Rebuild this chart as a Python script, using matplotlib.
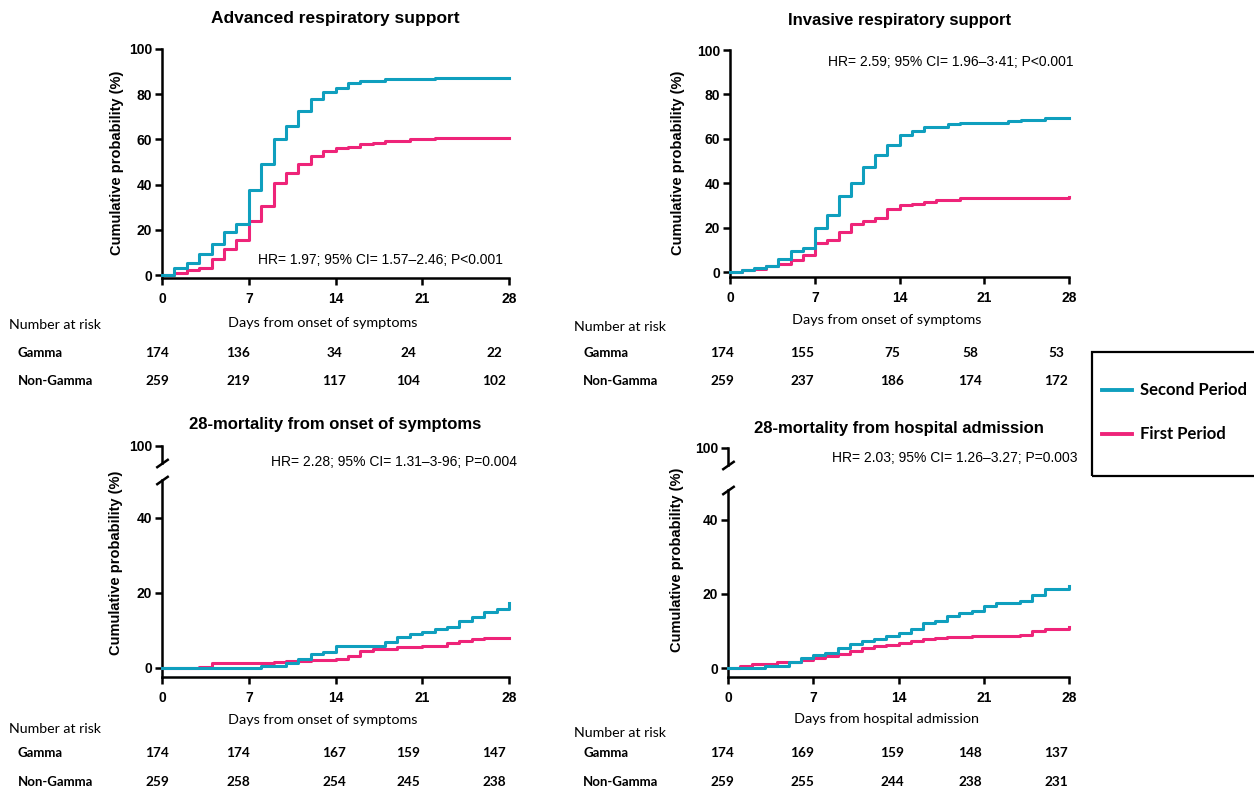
import matplotlib
matplotlib.use('Agg')
import matplotlib.pyplot as plt
from matplotlib.patches import Rectangle
from matplotlib.lines import Line2D

# --- data ---
day_ticks = [0, 7, 14, 21, 28]

# Advanced respiratory support
adv_second_days = [0, 1, 2, 3, 4, 5, 6, 7, 8, 9, 10, 11, 12, 13, 14, 15, 16, 18, 22, 28]
adv_second_vals = [0, 3.2, 5.2, 9.3, 13.7, 19.2, 22.4, 37.6, 49, 60, 66, 72.6, 77.7, 80.8, 82.9, 84.8, 86, 86.6, 87, 87.3]
adv_first_days = [0, 1, 2, 3, 4, 5, 6, 7, 8, 9, 10, 11, 12, 13, 14, 15, 16, 17, 18, 20, 22, 28]
adv_first_vals = [0, 1, 2.2, 3.2, 7, 11.5, 15.5, 24, 30.7, 40.6, 45.3, 49, 52.8, 54.9, 56, 56.8, 57.8, 58.6, 59.4, 60, 60.5, 60.5]

# Invasive respiratory support
inv_second_days = [0, 1, 2, 3, 4, 5, 6, 7, 8, 9, 10, 11, 12, 13, 14, 15, 16, 18, 19, 23, 24, 26, 27.5, 28]
inv_second_vals = [0, 1, 2, 2.7, 6, 9.3, 11, 19.8, 25.9, 34.3, 40.3, 47.4, 52.6, 57.1, 61.7, 63.6, 65.4, 66.5, 67, 68.1, 68.7, 69.2, 69.6, 69.6]
inv_first_days = [0, 1, 2, 3, 4, 5, 6, 7, 8, 9, 10, 11, 12, 13, 14, 15, 16, 17, 19, 28]
inv_first_vals = [0, 0.75, 1.6, 2.7, 3.8, 5.3, 7.5, 13, 14.6, 18, 21.8, 23, 24.5, 28.3, 30, 30.8, 31.6, 32.6, 33.5, 33.8]

# 28-mortality from onset of symptoms
mos_second_days = [0, 8, 10, 11, 12, 13, 14, 18, 19, 20, 21, 22, 23, 24, 25, 26, 27, 28]
mos_second_vals = [0, 0.5, 1.4, 2.4, 3.8, 4.2, 5.8, 6.9, 8.2, 9, 9.7, 10.4, 11, 12.4, 13.5, 15, 15.7, 17.3]
mos_first_days = [0, 3, 4, 9, 10, 12, 14, 15, 16, 17, 19, 21, 23, 24, 25, 26, 28]
mos_first_vals = [0, 0.3, 1.2, 1.6, 1.9, 2.2, 2.4, 3.1, 4.6, 5.1, 5.6, 5.9, 6.6, 7.1, 7.8, 8.1, 8.1]

# 28-mortality from hospital admission
mha_second_days = [0, 3, 5, 6, 7, 8, 9, 10, 11, 12, 13, 14, 15, 16, 17, 18, 19, 20, 21, 22, 24, 25, 26, 28]
mha_second_vals = [0, 0.6, 1.6, 2.7, 3.4, 4, 5.4, 6.5, 7.4, 7.9, 8.7, 9.5, 10.5, 12.2, 12.6, 14, 14.9, 15.3, 16.8, 17.6, 18, 19.6, 21.4, 22]
mha_first_days = [0, 1, 2, 4, 6, 7, 8, 9, 10, 11, 12, 13, 14, 15, 16, 17, 18, 20, 21, 24, 25, 26, 28]
mha_first_vals = [0, 0.6, 1.2, 1.6, 2.3, 2.7, 3.2, 3.9, 4.7, 5.4, 6, 6.3, 6.8, 7.2, 7.8, 8.1, 8.4, 8.6, 8.7, 9, 9.9, 10.6, 11]

titles = ['Advanced respiratory support', 'Invasive respiratory support',
          '28-mortality from onset of symptoms', '28-mortality from hospital admission']
hr_texts = ['HR= 1.97; 95% CI= 1.57\u20132.46; P<0.001',
            'HR= 2.59; 95% CI= 1.96\u20133\u00b741; P<0.001',
            'HR= 2.28; 95% CI= 1.31\u20133-96; P=0.004',
            'HR= 2.03; 95% CI= 1.26\u20133.27; P=0.003']
xlabels = ['Days from onset of symptoms', 'Days from onset of symptoms',
           'Days from onset of symptoms', 'Days from hospital admission']
groups = ['Gamma', 'Non-Gamma']
risk_adv = [[174, 136, 34, 24, 22], [259, 219, 117, 104, 102]]
risk_inv = [[174, 155, 75, 58, 53], [259, 237, 186, 174, 172]]
risk_mos = [[174, 174, 167, 159, 147], [259, 258, 254, 245, 238]]
risk_mha = [[174, 169, 159, 148, 137], [259, 255, 244, 238, 231]]
series_names = ['Second Period', 'First Period']

TEAL = '#0F9FBE'
PINK = '#EE2479'
SANS = 'Liberation Sans'
TAB = 'Lato'

W, H = 1254, 791
fig = plt.figure(figsize=(W / 100, H / 100), dpi=100)
fig.patch.set_facecolor('white')


def box(l, t, r, b):
    return [l / W, 1 - b / H, (r - l) / W, (b - t) / H]


def ftext(x, y, s, **kw):
    kw.setdefault('va', 'center')
    return fig.text(x / W, 1 - y / H, s, **kw)


def style(ax, yticks, ylim, show_x=True):
    ax.set_xlim(0, 28)
    ax.set_ylim(*ylim)
    for s in ['top', 'right']:
        ax.spines[s].set_visible(False)
    for s in ['left', 'bottom']:
        ax.spines[s].set_linewidth(1.8)
    ax.set_yticks(yticks)
    if show_x:
        ax.set_xticks(day_ticks)
    else:
        ax.spines['bottom'].set_visible(False)
        ax.set_xticks([])
    ax.tick_params(direction='out', length=5, width=1.8, labelsize=10)
    ax.tick_params(axis='x', pad=5)
    ax.tick_params(axis='y', pad=2)
    for lab in ax.get_xticklabels() + ax.get_yticklabels():
        lab.set_fontweight('bold')
        lab.set_family(SANS)
    ax.patch.set_alpha(0)


def curves(ax, sd, sv, fd, fv):
    ax.step(fd, fv, where='post', color=PINK, lw=2.2, clip_on=False, zorder=3)
    ax.step(sd, sv, where='post', color=TEAL, lw=2.2, clip_on=False, zorder=4)


def broken(ax_up, ax_lo):
    kw = dict(marker=[(-1, -0.7), (1, 0.7)], markersize=9, linestyle='none',
              color='k', mec='k', mew=1.8, clip_on=False)
    ax_up.plot([0], [0], transform=ax_up.transAxes, **kw)
    ax_lo.plot([0], [1], transform=ax_lo.transAxes, **kw)


def risk_table(col_x, label_x, head_y, rows_y, xlabel_x, xlabel_y, xlabel, risk):
    ftext(label_x - 9, head_y, 'Number at risk', ha='left', family=TAB, fontsize=10.2)
    ftext(xlabel_x, xlabel_y, xlabel, ha='center', family=TAB, fontsize=10.4)
    for g, ry, vals in zip(groups, rows_y, risk):
        ftext(label_x, ry, g, ha='left', family=TAB, fontsize=9.5, fontweight='bold')
        for cx, v in zip(col_x, vals):
            ftext(cx, ry, str(v), ha='center', family=TAB, fontsize=9.8, fontweight='bold')


# --- panel 1 ---
ax1 = fig.add_axes(box(162, 49, 509, 278))
curves(ax1, adv_second_days, adv_second_vals, adv_first_days, adv_first_vals)
style(ax1, [0, 20, 40, 60, 80, 100], (-1.3, 100))

# --- panel 2 ---
ax2 = fig.add_axes(box(730, 50, 1069, 277))
curves(ax2, inv_second_days, inv_second_vals, inv_first_days, inv_first_vals)
style(ax2, [0, 20, 40, 60, 80, 100], (-2.2, 100))

# --- panel 3 (broken axis) ---
ax3 = fig.add_axes(box(162, 480, 509, 677))
curves(ax3, mos_second_days, mos_second_vals, mos_first_days, mos_first_vals)
style(ax3, [0, 20, 40], (-2.4, 50))
ax3u = fig.add_axes(box(162, 446, 509, 463))
style(ax3u, [100], (96, 100), show_x=False)
broken(ax3u, ax3)

# --- panel 4 (broken axis) ---
ax4 = fig.add_axes(box(728, 490, 1069, 677))
curves(ax4, mha_second_days, mha_second_vals, mha_first_days, mha_first_vals)
style(ax4, [0, 20, 40], (-2.4, 48))
ax4u = fig.add_axes(box(728, 448, 1069, 465))
style(ax4u, [100], (96, 100), show_x=False)
broken(ax4u, ax4)

# titles
ftext(335, 18, titles[0], ha='center', family=SANS, fontsize=12.5, fontweight='bold')
ftext(900, 20, titles[1], ha='center', family=SANS, fontsize=12, fontweight='bold')
ftext(335, 425, titles[2], ha='center', family=SANS, fontsize=12, fontweight='bold')
ftext(899, 428, titles[3], ha='center', family=SANS, fontsize=12, fontweight='bold')

# HR annotations
ftext(503, 260, hr_texts[0], ha='right', family=SANS, fontsize=10)
ftext(1073, 62, hr_texts[1], ha='right', family=SANS, fontsize=10)
ftext(517, 462, hr_texts[2], ha='right', family=SANS, fontsize=10)
ftext(1077, 458, hr_texts[3], ha='right', family=SANS, fontsize=10)

# y labels
for x, y in [(117, 163), (678, 163), (116, 563), (677, 560)]:
    ftext(x, y, 'Cumulative probability (%)', ha='center', rotation=90,
          family=SANS, fontsize=10.5, fontweight='bold')

# number-at-risk tables
left_cols = [157, 238, 334, 408, 494]
right_cols = [722, 802, 892, 970, 1056]
risk_table(left_cols, 18, 325, [353, 381], 323, 323, xlabels[0], risk_adv)
risk_table(right_cols, 583, 327, [353, 381], 887, 320, xlabels[1], risk_inv)
risk_table(left_cols, 18, 729, [753, 782], 323, 720, xlabels[2], risk_mos)
risk_table(right_cols, 583, 733, [753, 782], 887, 719, xlabels[3], risk_mha)

# legend box (runs off the right edge, as in the original)
fig.patches.append(Rectangle((1092 / W, 1 - 476 / H), 200 / W, 124 / H, transform=fig.transFigure,
                             fill=False, edgecolor='black', lw=1.6, clip_on=False))
for name, col, y in zip(series_names, [TEAL, PINK], [390, 434]):
    fig.lines.append(Line2D([1102 / W, 1132 / W], [1 - y / H, 1 - y / H], transform=fig.transFigure,
                            color=col, lw=2.8))
    ftext(1140, y, name, ha='left', family=TAB, fontsize=12, fontweight='bold')

fig.savefig('out.png', dpi=100, facecolor='white')
